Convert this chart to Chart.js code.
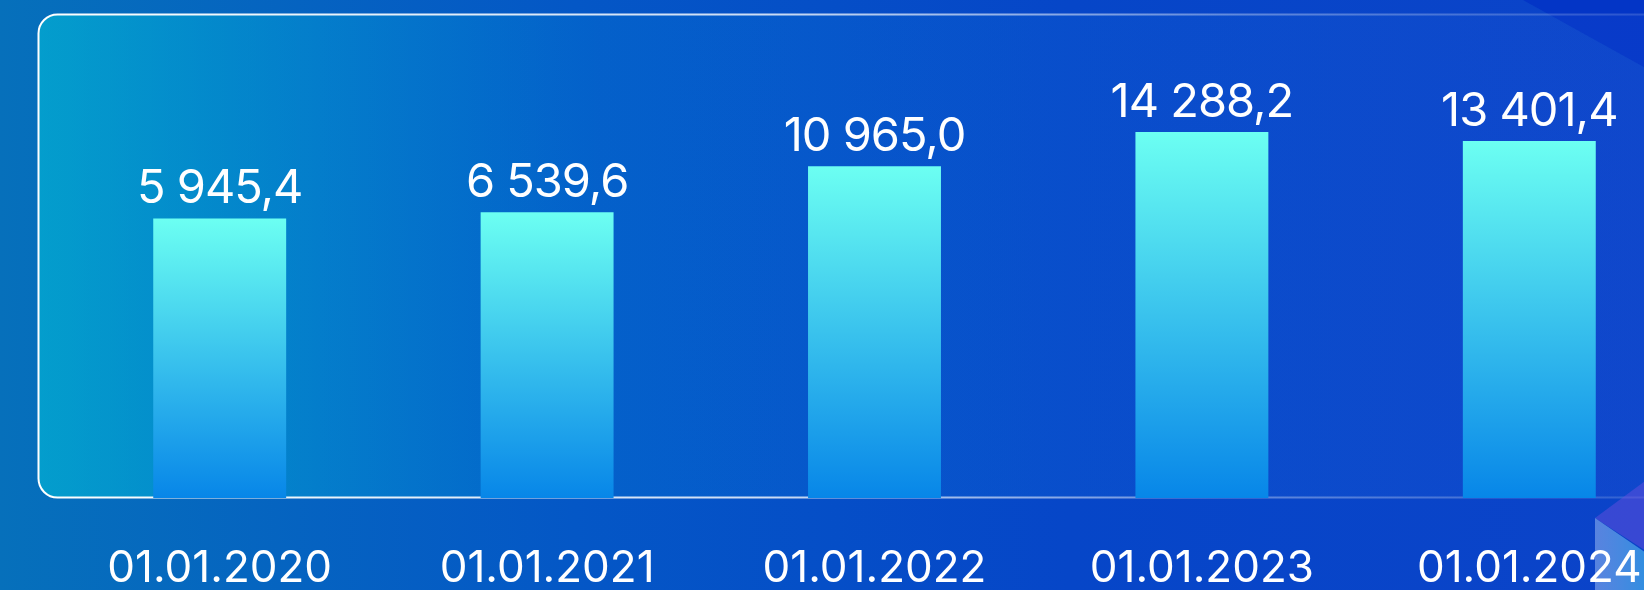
<!DOCTYPE html>
<html lang="ru">
<head>
<meta charset="utf-8">
<title>Динамика показателя</title>
<script src="https://cdn.jsdelivr.net/npm/chart.js@4.4.1/dist/chart.umd.min.js"></script>
<style>
    html, body { margin: 0; padding: 0; width: 1644px; height: 590px; overflow: hidden; background: #0455c6; }
    #wrap { position: absolute; left: 0; top: 0; width: 1693px; height: 590px; }
</style>
</head>
<body>
<div id="wrap"><canvas id="balanceChart" width="1693" height="590"></canvas></div>
<script>
const dates = ["01.01.2020", "01.01.2021", "01.01.2022", "01.01.2023", "01.01.2024"];
const values = [5945.4, 6539.6, 10965.0, 14288.2, 13401.4];

// value axis is not shown, bars start from the bottom of the scale
const Y_MIN = -21000;
const Y_MAX = 27000;

const FONT = "Inter, 'Noto Sans', sans-serif";

function formatValue(v) {
    const [int, frac] = v.toFixed(1).split(".");
    return int.replace(/\B(?=(\d{3})+(?!\d))/g, " ") + "," + frac;
}

function barGradient(context) {
    const chart = context.chart;
    const area = chart.chartArea;
    if (!area || context.type !== "data" || !chart.scales.y) return "#3cc8f0";
    const top = chart.scales.y.getPixelForValue(context.parsed.y);
    const g = chart.ctx.createLinearGradient(0, top, 0, area.bottom);
    g.addColorStop(0, "#6cfff2");
    g.addColorStop(1, "#0786e8");
    return g;
}

const backdropPlugin = {
    id: "backdrop",
    beforeDraw(chart) {
        const { ctx, width, height } = chart;
        ctx.save();

        const bg = ctx.createLinearGradient(0, 0, 1644, 0);
        bg.addColorStop(0, "#0670bb");
        bg.addColorStop(0.35, "#0457c6");
        bg.addColorStop(0.65, "#0646c8");
        bg.addColorStop(1, "#0b43c9");
        ctx.fillStyle = bg;
        ctx.fillRect(0, 0, width, height);

        // dark wedge in the top right corner
        ctx.fillStyle = "#0335c6";
        ctx.beginPath();
        ctx.moveTo(1523, 0);
        ctx.lineTo(width, 0);
        ctx.lineTo(width, (width - 1523) * 0.554);
        ctx.closePath();
        ctx.fill();

        // rounded panel behind the bars
        const fill = ctx.createLinearGradient(38, 0, 1644, 0);
        fill.addColorStop(0, "rgba(0, 215, 225, 0.45)");
        fill.addColorStop(0.35, "rgba(0, 170, 230, 0.12)");
        fill.addColorStop(1, "rgba(70, 120, 235, 0.08)");
        ctx.beginPath();
        ctx.roundRect(38.5, 14.5, 1800, 483, 19);
        ctx.fillStyle = fill;
        ctx.fill();

        const stroke = ctx.createLinearGradient(38, 0, 1644, 0);
        stroke.addColorStop(0, "rgba(255, 255, 255, 1)");
        stroke.addColorStop(0.45, "rgba(255, 255, 255, 0.8)");
        stroke.addColorStop(0.75, "rgba(255, 255, 255, 0.35)");
        stroke.addColorStop(1, "rgba(255, 255, 255, 0.15)");
        ctx.strokeStyle = stroke;
        ctx.lineWidth = 2;
        ctx.stroke();

        // corner shapes at the bottom right
        ctx.fillStyle = "rgba(110, 80, 225, 0.45)";
        ctx.beginPath();
        ctx.moveTo(1595, 518);
        ctx.lineTo(1660, 470);
        ctx.lineTo(1660, 560);
        ctx.closePath();
        ctx.fill();

        const tri = ctx.createLinearGradient(1595, 0, 1644, 0);
        tri.addColorStop(0, "rgba(130, 165, 235, 0.65)");
        tri.addColorStop(1, "rgba(60, 160, 230, 0.8)");
        ctx.fillStyle = tri;
        ctx.beginPath();
        ctx.moveTo(1595, 518);
        ctx.lineTo(1693, 585);
        ctx.lineTo(1693, height);
        ctx.lineTo(1595, height);
        ctx.closePath();
        ctx.fill();

        ctx.restore();
    }
};

const valueLabelPlugin = {
    id: "valueLabels",
    afterDatasetsDraw(chart) {
        const ctx = chart.ctx;
        const meta = chart.getDatasetMeta(0);
        ctx.save();
        ctx.fillStyle = "#ffffff";
        ctx.font = "400 47px " + FONT;
        ctx.letterSpacing = "-1px";
        ctx.textAlign = "center";
        ctx.textBaseline = "alphabetic";
        meta.data.forEach((bar, i) => {
            ctx.fillText(formatValue(values[i]), bar.x, bar.y - 15);
        });
        ctx.restore();
    }
};

new Chart(document.getElementById("balanceChart"), {
    type: "bar",
    data: {
        labels: dates,
        datasets: [{
            data: values,
            base: Y_MIN,
            backgroundColor: barGradient,
            borderWidth: 0,
            categoryPercentage: 1,
            barPercentage: 0.406
        }]
    },
    options: {
        responsive: false,
        animation: false,
        layout: { padding: { left: 56, right: 0, top: 0, bottom: 0 } },
        plugins: {
            legend: { display: false },
            tooltip: { enabled: false }
        },
        scales: {
            x: {
                grid: { display: false, drawTicks: false },
                border: { display: false },
                afterFit(scale) {
                    scale.height = 92;
                },
                ticks: {
                    color: "#ffffff",
                    padding: 44,
                    maxRotation: 0,
                    autoSkip: false,
                    font: { family: FONT, size: 44, weight: "400" }
                }
            },
            y: {
                display: false,
                min: Y_MIN,
                max: Y_MAX
            }
        }
    },
    plugins: [backdropPlugin, valueLabelPlugin]
});
</script>
</body>
</html>
